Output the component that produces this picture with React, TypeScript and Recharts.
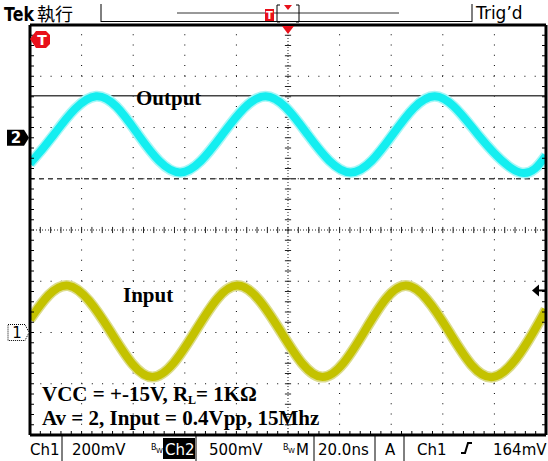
import { LineChart, Line, XAxis, YAxis, ReferenceLine, ReferenceDot } from "recharts";

// horizontal: 20 ns/div over 10 divisions
const timeDivs = [20, 40, 60, 80, 120, 140, 160, 180];
const timeCenter = 100;
// vertical graticule: 8 divisions
const vertDivs = [1, 2, 3, 5, 6, 7];
const vertCenter = 4;

// fifth-of-division marks along the border and the centre lines
const minorTime = Array.from({ length: 51 }, (_, i) => i * 4);
const minorDiv = Array.from({ length: 41 }, (_, i) => +(i * 0.2).toFixed(1));

// Ch1 = input, 200 mV/div
const ch1Time = [0, 14.8, 31.1, 47.4, 64.1, 80.4, 97.1, 113.4, 129.7, 145.6, 162.3, 179.4, 195.3, 200];
const ch1Mv = [51, 183, 5, -174, 5, 183, 5, -174, 5, 183, 5, -174, 5, 90];

// Ch2 = output, 500 mV/div
const ch2Time = [0, 9.3, 25.6, 41.9, 58.2, 74.6, 91.3, 107.6, 124.3, 140.6, 156.9, 173.6, 189.9, 200];
const ch2Mv = [-251, 32, 405, 32, -339, 32, 405, 32, -339, 32, 405, 32, -339, -173];

const ch2Cursors = [410, -400];
const trigLevelMv = 164;
const trigPosNs = 100;

const ch1Data = ch1Time.map((t, i) => ({ t, mv: ch1Mv[i] }));
const ch2Data = ch2Time.map((t, i) => ({ t, mv: ch2Mv[i] }));

const sans = "DejaVu Sans";
const serif = "Liberation Serif";
const red = "#e8101a";

const noLabel = () => <g />;

function Ch2Marker({ cx, cy }: any) {
  return (
    <g>
      <polygon
        points={`${cx - 23},${cy - 8} ${cx - 6},${cy - 8} ${cx - 1},${cy} ${cx - 6},${cy + 8} ${cx - 23},${cy + 8}`}
        fill="#000"
      />
      <text x={cx - 14} y={cy + 5.5} textAnchor="middle" fill="#fff" fontSize={15} fontWeight="bold" fontFamily={sans}>
        2
      </text>
    </g>
  );
}

function Ch1Marker({ cx, cy }: any) {
  return (
    <g>
      <polygon
        points={`${cx - 22},${cy - 8} ${cx - 5},${cy - 8} ${cx - 1},${cy} ${cx - 5},${cy + 8} ${cx - 22},${cy + 8}`}
        fill="#fff"
        stroke="#000"
        strokeDasharray="1 1"
      />
      <text x={cx - 13} y={cy + 5.5} textAnchor="middle" fill="#000" fontSize={15} fontFamily={sans}>
        1
      </text>
    </g>
  );
}

function TrigLevel({ cx, cy }: any) {
  return (
    <g>
      <polygon points={`${cx - 14},${cy} ${cx - 7},${cy - 6} ${cx - 7},${cy + 6}`} fill="#000" />
      <line x1={cx - 8} y1={cy} x2={cx - 1} y2={cy} stroke="#000" strokeWidth={2} />
    </g>
  );
}

function TrigPos({ cx, cy }: any) {
  return <polygon points={`${cx - 6},${cy + 1} ${cx + 6},${cy + 1} ${cx},${cy + 9}`} fill={red} />;
}

function Overlay() {
  const readout = 455;
  return (
    <svg width={548} height={461} style={{ position: "absolute", left: 0, top: 0, pointerEvents: "none" }}>
      {/* top bar */}
      <text x={4} y={21} fontFamily={sans} fontWeight="bold" fontSize={19} textLength={30} lengthAdjust="spacingAndGlyphs">
        Tek
      </text>
      <text x={37} y={21} fontFamily="Noto Sans CJK TC" fontSize={18}>
        執行
      </text>
      <line x1={101} y1={4} x2={101} y2={22} stroke="#000" />
      <line x1={101} y1={21.5} x2={472} y2={21.5} stroke="#000" />
      <line x1={472} y1={4} x2={472} y2={22} stroke="#000" />
      <line x1={177} y1={13} x2={399} y2={13} stroke="#333" />
      <rect x={265} y={9} width={9} height={12} fill={red} />
      <text x={269.5} y={19} textAnchor="middle" fill="#fff" fontFamily={sans} fontWeight="bold" fontSize={10}>
        T
      </text>
      <path d="M280 5 H277 V22 H280 M296 5 H299 V22 H296" stroke="#000" fill="none" />
      <polygon points="284,5 292,5 288,10" fill={red} />
      <text x={476} y={19} fontFamily={sans} fontSize={17}>
        Trig’d
      </text>
      {/* red T marker */}
      <polygon points="30,39 36,31 46,31 50,35 50,44 46,48 36,48" fill={red} />
      <text x={42} y={45} textAnchor="middle" fill="#fff" fontFamily={sans} fontWeight="bold" fontSize={14}>
        T
      </text>
      {/* annotations */}
      <g fontFamily={serif} fontWeight="bold" fontSize={21} fill="#000">
        <text x={136} y={105}>Output</text>
        <text x={123} y={302}>Input</text>
        <text x={42} y={401}>
          VCC = +-15V, R<tspan fontSize={12} dy={3}>L</tspan>
          <tspan dy={-3}>= 1KΩ</tspan>
        </text>
        <text x={42} y={425}>Av = 2, Input = 0.4Vpp, 15Mhz</text>
      </g>
      {/* readout */}
      <g fontFamily={sans} fontSize={15} fill="#000">
        <text x={30} y={readout}>Ch1</text>
        <text x={72} y={readout}>200mV</text>
        <text x={151} y={450} fontSize={8}>B</text>
        <text x={156} y={453} fontSize={7}>W</text>
        <rect x={163} y={438} width={32} height={21} fill="#000" />
        <text x={165} y={readout} fill="#fff">Ch2</text>
        <text x={209} y={readout}>500mV</text>
        <text x={283} y={450} fontSize={8}>B</text>
        <text x={288} y={453} fontSize={7}>W</text>
        <text x={296} y={readout}>M</text>
        <text x={318} y={readout}>20.0ns</text>
        <text x={385} y={readout}>A</text>
        <text x={417} y={readout}>Ch1</text>
        <text x={493} y={readout}>164mV</text>
      </g>
      <path d="M461 453 H465 L468 443 H472" stroke="#000" strokeWidth={2} fill="none" />
      {[62, 196, 314, 375, 404].map((x) => (
        <line key={x} x1={x} y1={436} x2={x} y2={461} stroke="#000" />
      ))}
    </svg>
  );
}

const borderAxis = {
  type: "number" as const,
  interval: 0 as const,
  tick: noLabel,
  tickSize: 4,
  mirror: true,
  allowDataOverflow: true,
  axisLine: { stroke: "#000", strokeWidth: 3 },
  tickLine: { stroke: "#000" },
};

export default function App() {
  return (
    <div style={{ position: "relative", width: 548, height: 461, background: "#fff" }}>
      <style>{"body{margin:0}"}</style>
      <LineChart width={548} height={461} margin={{ top: 25, right: 2, bottom: 26, left: 30 }}>
        <XAxis xAxisId="t" dataKey="t" domain={[0, 200]} ticks={minorTime} {...borderAxis} />
        <XAxis xAxisId="top" orientation="top" domain={[0, 200]} ticks={minorTime} {...borderAxis} />
        <YAxis yAxisId="div" domain={[0, 8]} ticks={minorDiv} {...borderAxis} />
        <YAxis yAxisId="divR" orientation="right" domain={[0, 8]} ticks={minorDiv} {...borderAxis} />
        <YAxis yAxisId="ch1" hide type="number" domain={[-400, 1200]} allowDataOverflow />
        <YAxis yAxisId="ch2" hide type="number" domain={[-2900, 1100]} allowDataOverflow />

        {timeDivs.map((t) => (
          <ReferenceLine key={"gx" + t} xAxisId="t" yAxisId="div" x={t} stroke="#000" strokeDasharray="1 9.25" />
        ))}
        {vertDivs.map((d) => (
          <ReferenceLine key={"gy" + d} xAxisId="t" yAxisId="div" y={d} stroke="#000" strokeDasharray="1 9.3" />
        ))}
        <ReferenceLine xAxisId="t" yAxisId="div" x={timeCenter} stroke="#222" strokeDasharray="1 2" />
        <ReferenceLine xAxisId="t" yAxisId="div" y={vertCenter} stroke="#222" strokeDasharray="1 2" />
        {minorTime.map((t) => (
          <ReferenceLine
            key={"cx" + t}
            xAxisId="t"
            yAxisId="div"
            segment={[
              { x: t, y: vertCenter - 0.06 },
              { x: t, y: vertCenter + 0.06 },
            ]}
            stroke="#222"
          />
        ))}
        {minorDiv.map((d) => (
          <ReferenceLine
            key={"cy" + d}
            xAxisId="t"
            yAxisId="div"
            segment={[
              { x: timeCenter - 1.2, y: d },
              { x: timeCenter + 1.2, y: d },
            ]}
            stroke="#222"
          />
        ))}
        <ReferenceLine xAxisId="t" yAxisId="ch2" y={ch2Cursors[0]} stroke="#444" strokeWidth={1.5} />
        <ReferenceLine xAxisId="t" yAxisId="ch2" y={ch2Cursors[1]} stroke="#444" strokeWidth={1.5} strokeDasharray="5 4" />

        <Line xAxisId="t" yAxisId="ch2" data={ch2Data} dataKey="mv" type="natural" stroke="#a8f6f6" strokeWidth={11} dot={false} isAnimationActive={false} />
        <Line xAxisId="t" yAxisId="ch2" data={ch2Data} dataKey="mv" type="natural" stroke="#14eef0" strokeWidth={8} dot={false} isAnimationActive={false} />
        <Line xAxisId="t" yAxisId="ch1" data={ch1Data} dataKey="mv" type="natural" stroke="#dcdc8c" strokeWidth={11} dot={false} isAnimationActive={false} />
        <Line xAxisId="t" yAxisId="ch1" data={ch1Data} dataKey="mv" type="natural" stroke="#c4c200" strokeWidth={8} dot={false} isAnimationActive={false} />

        <ReferenceDot xAxisId="t" yAxisId="ch2" x={0} y={0} r={0} shape={(p: any) => <Ch2Marker {...p} />} />
        <ReferenceDot xAxisId="t" yAxisId="ch1" x={0} y={0} r={0} shape={(p: any) => <Ch1Marker {...p} />} />
        <ReferenceDot xAxisId="t" yAxisId="ch1" x={200} y={trigLevelMv} r={0} shape={(p: any) => <TrigLevel {...p} />} />
        <ReferenceDot xAxisId="t" yAxisId="div" x={trigPosNs} y={8} r={0} shape={(p: any) => <TrigPos {...p} />} />
      </LineChart>
      <Overlay />
    </div>
  );
}
